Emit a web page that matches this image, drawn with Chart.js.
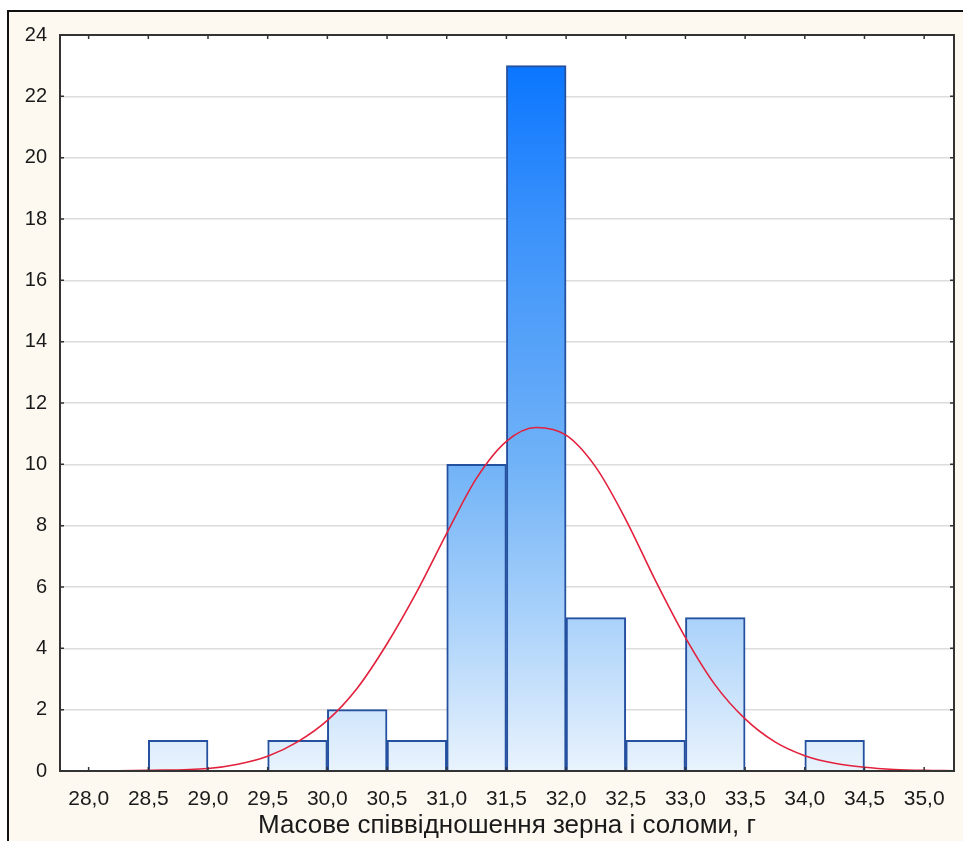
<!DOCTYPE html>
<html>
<head>
<meta charset="utf-8">
<script src="https://cdn.jsdelivr.net/npm/chart.js@4.4.1/dist/chart.umd.min.js"></script>
<style>
  html, body { margin: 0; padding: 0; background: #ffffff; }
  #frame { position: absolute; left: 7px; top: 10px; width: 956px; height: 831px;
           background: #fdf9f0; border-top: 2px solid #111; border-left: 2px solid #111; box-sizing: border-box; }
  #wrap { position: absolute; left: 0; top: 0; width: 963px; height: 841px; }
</style>
</head>
<body>
<div id="frame"></div>
<div id="wrap"><canvas id="c" width="963" height="841"></canvas></div>
<script>
// Histogram bins (centres of 0.5-wide classes) and counts
const binCenters = [28.75, 29.75, 30.25, 30.75, 31.25, 31.75, 32.25, 32.75, 33.25, 34.25];
const binCounts  = [1, 1, 2, 1, 10, 23, 5, 1, 5, 1];

// Fitted normal curve
const curveX = [27.76, 28.0, 28.5, 29.0, 29.25, 29.5, 29.75, 30.0, 30.25, 30.5, 30.75, 31.0, 31.25, 31.5, 31.75, 32.0, 32.25, 32.5, 32.75, 33.0, 33.25, 33.5, 33.75, 34.0, 34.25, 34.5, 34.75, 35.0, 35.25];
const curveY = [0.0, 0.0, 0.02, 0.08, 0.22, 0.48, 0.95, 1.65, 2.7, 4.15, 5.85, 7.75, 9.55, 10.75, 11.2, 10.95, 9.9, 8.2, 6.2, 4.35, 2.8, 1.7, 0.95, 0.5, 0.25, 0.12, 0.05, 0.02, 0.01];

// Axis ticks
const xTickValues = [28.0, 28.5, 29.0, 29.5, 30.0, 30.5, 31.0, 31.5, 32.0, 32.5, 33.0, 33.5, 34.0, 34.5, 35.0];
const yTickValues = [0, 2, 4, 6, 8, 10, 12, 14, 16, 18, 20, 22, 24];
const xAxisTitle = 'Масове співвідношення зерна і соломи, г';

const barData = binCenters.map((x, i) => ({ x: x, y: binCounts[i] }));
const curveData = curveX.map((x, i) => ({ x: x, y: curveY[i] }));

function barGradient(context) {
  const chart = context.chart;
  const area = chart.chartArea;
  if (!area) return '#8cc2f8';
  const y = chart.scales.y;
  const g = chart.ctx.createLinearGradient(0, y.getPixelForValue(0), 0, y.getPixelForValue(24));
  g.addColorStop(0, '#e9f3fd');
  g.addColorStop(0.2, '#acd3fa');
  g.addColorStop(0.42, '#70b2f7');
  g.addColorStop(0.75, '#3a91fb');
  g.addColorStop(1, '#0070ff');
  return g;
}

const framePlugin = {
  id: 'framePlugin',
  beforeDraw(chart) {
    const { ctx, chartArea: a } = chart;
    ctx.save();
    ctx.fillStyle = '#ffffff';
    ctx.fillRect(a.left, a.top, a.right - a.left, a.bottom - a.top);
    ctx.restore();
  },
  afterDraw(chart) {
    const { ctx, chartArea: a, scales } = chart;
    ctx.save();
    ctx.strokeStyle = '#333333';
    ctx.lineWidth = 2;
    ctx.strokeRect(a.left, a.top, a.right - a.left, a.bottom - a.top);
    ctx.lineWidth = 1.5;
    ctx.beginPath();
    xTickValues.forEach(v => {
      const px = scales.x.getPixelForValue(v);
      ctx.moveTo(px, a.top); ctx.lineTo(px, a.top + 4);
      ctx.moveTo(px, a.bottom); ctx.lineTo(px, a.bottom - 4);
    });
    yTickValues.forEach(v => {
      const py = scales.y.getPixelForValue(v);
      ctx.moveTo(a.left, py); ctx.lineTo(a.left + 4, py);
      ctx.moveTo(a.right, py); ctx.lineTo(a.right - 4, py);
    });
    ctx.stroke();
    ctx.restore();
  }
};

new Chart(document.getElementById('c'), {
  type: 'bar',
  data: {
    datasets: [
      {
        type: 'line',
        data: curveData,
        borderColor: '#e2213d',
        borderWidth: 1.6,
        pointRadius: 0,
        cubicInterpolationMode: 'monotone',
        fill: false,
        order: 0
      },
      {
        type: 'bar',
        data: barData,
        backgroundColor: barGradient,
        borderColor: '#24509f',
        borderWidth: 2,
        borderSkipped: 'bottom',
        barPercentage: 1,
        categoryPercentage: 1,
        grouped: false,
        order: 1
      }
    ]
  },
  options: {
    responsive: false,
    animation: false,
    layout: { padding: { left: 0, right: 9, top: 35, bottom: 0 } },
    plugins: { legend: { display: false }, tooltip: { enabled: false } },
    scales: {
      x: {
        type: 'linear',
        offset: false,
        min: 27.76,
        max: 35.25,
        afterFit(scale) { scale.height = 70; scale.paddingLeft = 0; scale.paddingRight = 0; },
        afterBuildTicks(scale) { scale.ticks = xTickValues.map(v => ({ value: v })); },
        grid: { display: false, drawTicks: false },
        border: { display: false },
        ticks: {
          autoSkip: false,
          maxRotation: 0,
          padding: 16,
          color: '#1a1a1a',
          font: { family: 'Liberation Sans, Arial, sans-serif', size: 21 },
          callback: (v) => Number(v).toFixed(1).replace('.', ',')
        },
        title: {
          display: true,
          text: xAxisTitle,
          color: '#1a1a1a',
          font: { family: 'Liberation Sans, Arial, sans-serif', size: 26 },
          padding: { top: 0, bottom: 0 }
        }
      },
      y: {
        type: 'linear',
        min: 0,
        max: 24,
        afterFit(scale) { scale.width = 60; },
        afterBuildTicks(scale) { scale.ticks = yTickValues.map(v => ({ value: v })); },
        grid: { color: '#dcdcdc', lineWidth: 1.5, drawTicks: false },
        border: { display: false },
        ticks: {
          padding: 13,
          color: '#1a1a1a',
          font: { family: 'Liberation Sans, Arial, sans-serif', size: 20 }
        }
      }
    }
  },
  plugins: [framePlugin]
});
</script>
</body>
</html>
